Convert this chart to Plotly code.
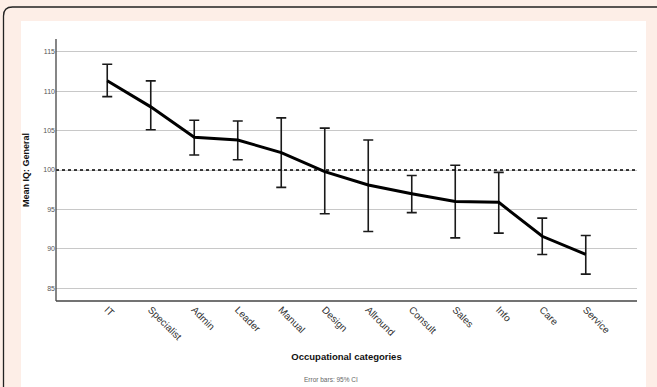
import plotly.graph_objects as go

categories = ["IT", "Specialist", "Admin", "Leader", "Manual", "Design",
              "Allround", "Consult", "Sales", "Info", "Care", "Service"]
mean_iq = [111.3, 108.0, 104.15, 103.8, 102.2, 99.8, 98.1, 97.0, 96.0, 95.9, 91.6, 89.3]
ci_upper = [113.4, 111.3, 106.3, 106.2, 106.6, 105.3, 103.8, 99.3, 100.6, 99.7, 93.9, 91.7]
ci_lower = [109.3, 105.1, 101.9, 101.3, 97.8, 94.45, 92.2, 94.6, 91.4, 92.0, 89.3, 86.8]
y_ticks = [85, 90, 95, 100, 105, 110, 115]
reference_value = 100

W, H = 657, 387
L, R, T, B = 56, 20, 39, 86
pw, ph = W - L - R, H - T - B

def px(x):
    return (x - L) / pw

def py(y):
    return (H - B - y) / ph

err_plus = [u - m for u, m in zip(ci_upper, mean_iq)]
err_minus = [m - l for m, l in zip(mean_iq, ci_lower)]
xs = list(range(len(categories)))

fig = go.Figure()
fig.add_trace(go.Scatter(
    x=xs, y=mean_iq, mode="lines",
    line=dict(color="black", width=3),
    error_y=dict(type="data", symmetric=False, array=err_plus, arrayminus=err_minus,
                 color="#1a1a1a", thickness=1.6, width=5),
    hoverinfo="skip", showlegend=False,
))

shapes = [
    dict(type="rect", xref="paper", yref="paper", x0=px(21), x1=px(646), y0=py(390), y1=py(21),
         fillcolor="white", line=dict(width=0), layer="below"),
    dict(type="path", xref="paper", yref="paper",
         path=f"M {px(3.5)},{py(395)} L {px(3.5)},{py(16)} Q {px(3.5)},{py(7)} {px(12.5)},{py(7)} L {px(660)},{py(7)}",
         line=dict(color="#222222", width=1.3), layer="below"),
    dict(type="line", xref="paper", yref="y", x0=0, x1=1, y0=reference_value, y1=reference_value,
         line=dict(color="black", width=1.6, dash="dot"), layer="above"),
    dict(type="line", xref="paper", yref="paper", x0=0, x1=0, y0=0, y1=1,
         line=dict(color="#444444", width=1.3)),
    dict(type="line", xref="paper", yref="paper", x0=0, x1=1, y0=0, y1=0,
         line=dict(color="#444444", width=1.5)),
]

fig.update_layout(
    width=W, height=H,
    margin=dict(l=L, r=R, t=T, b=B),
    paper_bgcolor="#FDEEE7",
    plot_bgcolor="white",
    font=dict(family="Liberation Sans, Arial, sans-serif", color="#333333"),
    shapes=shapes,
    xaxis=dict(
        tickmode="array", tickvals=xs, ticktext=categories,
        range=[-1.178, len(categories) - 1 + 1.178],
        tickangle=45, tickfont=dict(size=10, color="#333333"),
        showgrid=False, zeroline=False, showline=False, ticks="",
        title=dict(text="<b>Occupational categories</b>", font=dict(size=9.5, color="#111111"), standoff=11),
    ),
    yaxis=dict(
        tickmode="array", tickvals=y_ticks,
        range=[83.4, 116.6],
        tickfont=dict(size=7, color="#555555"),
        showgrid=True, gridcolor="#c8c8c8", gridwidth=1.3,
        zeroline=False, showline=False, ticks="",
        title=dict(text="<b>Mean IQ: General</b>", font=dict(size=9, color="#111111"), standoff=12),
    ),
    annotations=[
        dict(text="Error bars: 95% CI", xref="paper", yref="paper", x=px(331), y=py(379),
             showarrow=False, font=dict(size=6.5, color="#666666"), xanchor="center", yanchor="middle"),
    ],
)

fig.write_html("out.html", config={"displayModeBar": False},
               post_script="document.body.style.margin='0';document.body.style.overflow='hidden';")
